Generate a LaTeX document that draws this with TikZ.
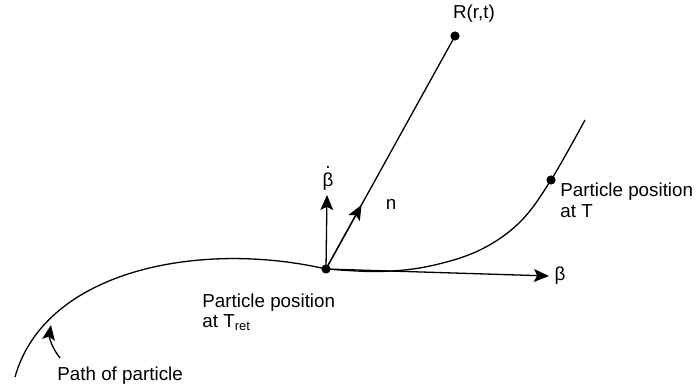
\documentclass[tikz,border=0pt]{standalone}
\usepackage{fontspec}
\setmainfont{Liberation Sans}
\usetikzlibrary{arrows.meta,calc}
\begin{document}
\begin{tikzpicture}[x=0.5pt,y=-0.5pt,
  line/.style={line width=0.65pt},
  vec/.style={line width=0.65pt,-{Stealth[length=7.5pt,width=6.4pt,inset=1.6pt]}},
  pt/.style={circle,fill=black,inner sep=0pt,minimum size=4.6pt},
  lbl/.style={font=\fontsize{9.4}{10.3}\selectfont,inner sep=0pt},
  lbll/.style={lbl,align=left,anchor=west}]
\useasboundingbox (0,0) rectangle (697,390);
% points
\node[pt] (P) at (326,269) {};
\node[pt] (R) at (455,36) {};
\node[pt] (T) at (551,180) {};
% particle path
\coordinate (S) at (15,377);
\draw[line] (S) .. controls (45,270) and (200,240) .. (P.center);
\draw[line] plot[smooth,tension=0.6] coordinates {(326,269) (380,271.5) (430,266) (480,250) (520,222) (551,180) (585,120)};
% vectors
\draw[line] (P.center) -- (R.center);
\coordinate (ntip) at ($(P.center)!0.275!(R.center)$);
\draw[vec] (P.center) -- (ntip);
\coordinate (bdtip) at (327,195);
\draw[vec] (P.center) -- (bdtip);
\coordinate (btip) at (549,276);
\draw[vec] (P.center) -- (btip);
% path-of-particle arrow
\coordinate (ptail) at (60,358);
\coordinate (phead) at (51,325);
\draw[vec] (ptail) .. controls (52,348) and (49,337) .. (phead);
% labels
\node[lbl] (Rl) at (474,14) {R(r,t)};
\node[lbl] (nl) at (391,204) {n};
\node[lbl] (bl) at (560,276) {β};
\node[lbl] (bdl) at (328,180) {\ooalign{β\cr\hidewidth\raisebox{0.95em}{.}\hidewidth\cr}};
\node[lbll] (Tl) at (560,200) {Particle position\\at T};
\node[lbll] (Pl) at (202,312) {Particle position\\at T\raisebox{-0.25ex}{\fontsize{6.5}{7}\selectfont ret}};
\node[lbll] (Al) at (57,376) {Path of particle};
\end{tikzpicture}
\end{document}
